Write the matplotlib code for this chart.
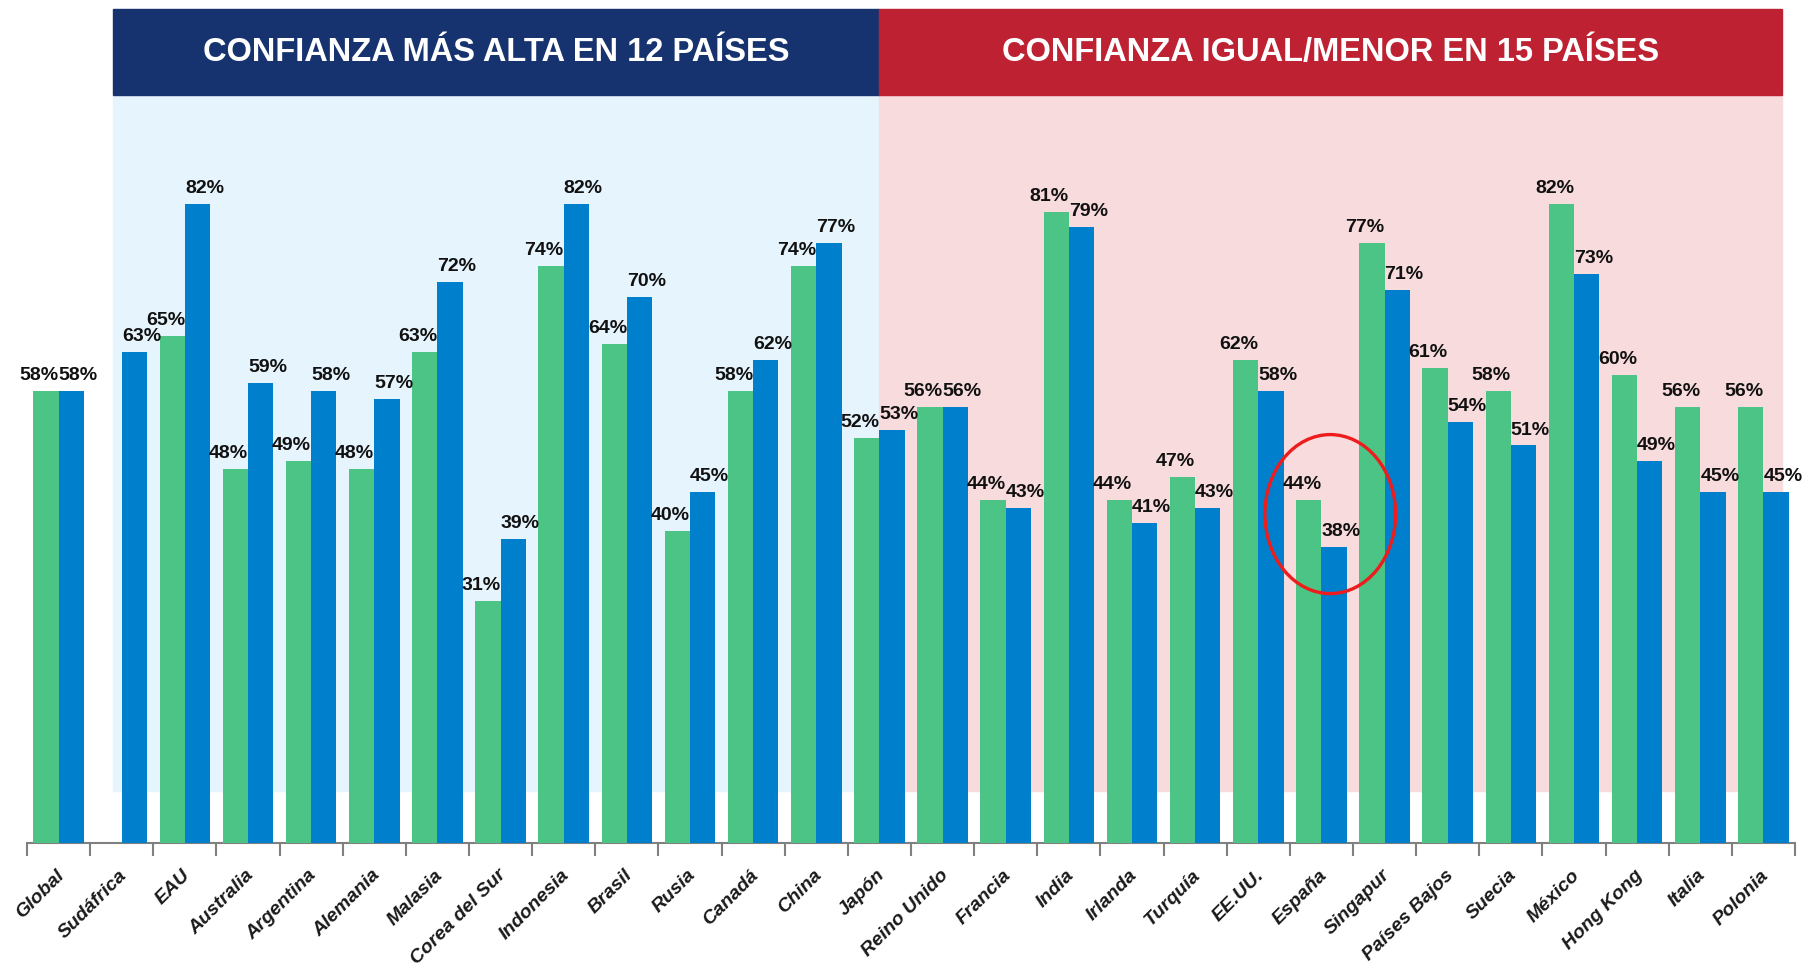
import numpy as np
import matplotlib
matplotlib.use("Agg")
import matplotlib.pyplot as plt
from matplotlib.patches import Rectangle, Ellipse
from matplotlib.transforms import ScaledTranslation

# datos (%)
paises = ["Global", "Sudáfrica", "EAU", "Australia", "Argentina", "Alemania",
          "Malasia", "Corea del Sur", "Indonesia", "Brasil", "Rusia", "Canadá",
          "China", "Japón", "Reino Unido", "Francia", "India", "Irlanda",
          "Turquía", "EE.UU.", "España", "Singapur", "Países Bajos", "Suecia",
          "México", "Hong Kong", "Italia", "Polonia"]
verde = [58, np.nan, 65, 48, 49, 48, 63, 31, 74, 64, 40, 58, 74, 52,
         56, 44, 81, 44, 47, 62, 44, 77, 61, 58, 82, 60, 56, 56]
azul = [58, 63, 82, 59, 58, 57, 72, 39, 82, 70, 45, 62, 77, 53,
        56, 43, 79, 41, 43, 58, 38, 71, 54, 51, 73, 49, 45, 45]
titulo_alta = "CONFIANZA MÁS ALTA EN 12 PAÍSES"
titulo_menor = "CONFIANZA IGUAL/MENOR EN 15 PAÍSES"

VERDE = "#4cc486"
AZUL = "#0080cc"
NAVY = "#17336f"
ROJO = "#be2232"
FUENTE = ["Liberation Sans", "DejaVu Sans"]

fig = plt.figure(figsize=(18.04, 9.66), dpi=100)
ax = fig.add_axes([0.015, 0.1273, 0.98, 0.8634])
ymax = 107.0
ax.set_xlim(-0.5, len(paises) - 0.5)
ax.set_ylim(0, ymax)

# fondos y cabeceras
ax.add_patch(Rectangle((0.86, 6.7), 13.0 - 0.86, 96.0 - 6.7, color="#e6f5fd", zorder=0))
ax.add_patch(Rectangle((13.0, 6.7), 27.3 - 13.0, 96.0 - 6.7, color="#f7dbdd", zorder=0))
ax.add_patch(Rectangle((0.86, 96.0), 13.0 - 0.86, ymax - 96.0, color=NAVY, zorder=1, clip_on=False))
ax.add_patch(Rectangle((13.0, 96.0), 27.3 - 13.0, ymax - 96.0, color=ROJO, zorder=1, clip_on=False))
ax.text((0.86 + 13.0) / 2, 101.4, titulo_alta, color="white", ha="center", va="center",
        fontsize=23.5, fontweight="bold", family=FUENTE, zorder=2)
ax.text((13.0 + 27.3) / 2, 101.4, titulo_menor, color="white", ha="center", va="center",
        fontsize=23.5, fontweight="bold", family=FUENTE, zorder=2)

x = np.arange(len(paises))
w = 0.4
b1 = ax.bar(x - w / 2, verde, w, color=VERDE, zorder=3)
b2 = ax.bar(x + w / 2, azul, w, color=AZUL, zorder=3)

# etiquetas: verde un poco a la izquierda, azul a la derecha
for barras, vals, dx in ((b1, verde, -5), (b2, azul, 5)):
    for rect, v in zip(barras, vals):
        if np.isnan(v):
            continue
        ax.annotate(f"{v:.0f}%", (rect.get_x() + rect.get_width() / 2, v),
                    xytext=(dx, 5), textcoords="offset points", ha="center", va="bottom",
                    fontsize=14, fontweight="bold", family=FUENTE, color="#111111", zorder=5)

# elipse roja sobre España
ax.add_patch(Ellipse((20.14, 42.2), 2.07, 20.4, fill=False, edgecolor="#ee1c1c",
                     linewidth=2.4, zorder=6))

for s in ("left", "top", "right"):
    ax.spines[s].set_visible(False)
ax.spines["bottom"].set_color("#808080")
ax.spines["bottom"].set_linewidth(1.5)
ax.set_yticks([])
ax.set_xticks(x)
ax.set_xticks(np.arange(-0.5, len(paises)), minor=True)
ax.tick_params(axis="x", which="major", length=0, pad=17)
ax.tick_params(axis="x", which="minor", length=9, width=1.5, color="#808080")
ax.set_xticklabels(paises, rotation=45, ha="right", va="top", rotation_mode="anchor",
                   fontsize=14, fontweight="bold", fontstyle="italic", family=FUENTE,
                   color="#1a1a1a")
for lbl in ax.get_xticklabels():
    lbl.set_transform(lbl.get_transform() + ScaledTranslation(-0.03, 0, fig.dpi_scale_trans))

fig.savefig("out.png", dpi=100)
